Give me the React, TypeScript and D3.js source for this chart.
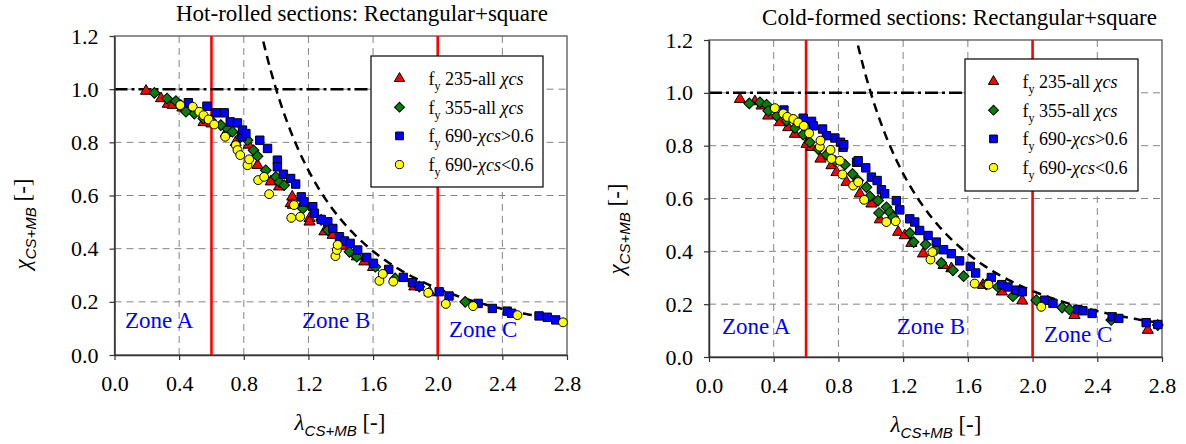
import React, { useEffect, useRef } from "react";
import * as d3 from "d3";

// slenderness / reduction factor pairs
const hot235 = [[0.195,0.993],[0.288,0.965],[0.33,0.944],[0.36,0.94],[0.42,0.93],[0.551,0.875],[0.6,0.87],[0.689,0.834],[0.75,0.8],[0.83,0.79],[0.885,0.714],[0.967,0.652],[1.018,0.633],[1.09,0.57],[1.1,0.595],[1.104,0.564],[1.207,0.514],[1.207,0.501],[1.299,0.464],[1.35,0.451],[1.42,0.41],[1.5,0.37],[1.546,0.351],[1.6,0.33],[1.855,0.257],[1.95,0.235]];
const hot355 = [[0.247,0.986],[0.325,0.965],[0.38,0.955],[0.41,0.94],[0.442,0.915],[0.494,0.908],[0.55,0.89],[0.597,0.883],[0.658,0.865],[0.7,0.85],[0.73,0.84],[0.78,0.82],[0.823,0.808],[0.86,0.77],[0.885,0.748],[0.936,0.695],[0.998,0.67],[1.02,0.65],[1.05,0.639],[1.16,0.558],[1.165,0.551],[1.279,0.508],[1.32,0.47],[1.454,0.388],[1.499,0.37],[1.614,0.332],[1.737,0.288],[1.886,0.257],[2.17,0.2]];
const hot690hi = [[0.457,0.949],[0.572,0.936],[0.628,0.911],[0.679,0.911],[0.716,0.877],[0.761,0.873],[0.788,0.821],[0.792,0.846],[0.813,0.833],[0.899,0.808],[0.947,0.777],[1.008,0.733],[1.008,0.708],[1.045,0.68],[1.09,0.664],[1.121,0.643],[1.156,0.595],[1.173,0.576],[1.227,0.558],[1.237,0.533],[1.279,0.51],[1.32,0.501],[1.351,0.476],[1.392,0.445],[1.423,0.429],[1.458,0.42],[1.505,0.395],[1.561,0.367],[1.602,0.345],[1.697,0.322],[1.787,0.292],[1.844,0.272],[1.886,0.259],[2.009,0.238],[2.07,0.222],[2.25,0.194],[2.338,0.175],[2.43,0.165],[2.457,0.157],[2.627,0.147],[2.678,0.142],[2.73,0.132]];
const hot690lo = [[0.407,0.94],[0.484,0.934],[0.525,0.915],[0.551,0.902],[0.582,0.886],[0.617,0.867],[0.685,0.821],[0.751,0.789],[0.761,0.771],[0.778,0.752],[0.823,0.714],[0.833,0.736],[0.889,0.658],[0.926,0.67],[0.957,0.605],[1.094,0.516],[1.111,0.564],[1.149,0.52],[1.367,0.372],[1.376,0.395],[1.381,0.414],[1.639,0.279],[1.66,0.305],[1.725,0.276],[1.941,0.234],[2.05,0.192],[2.219,0.184],[2.493,0.15],[2.775,0.123]];

const cold235 = [[0.191,0.976],[0.284,0.967],[0.325,0.951],[0.366,0.913],[0.438,0.888],[0.49,0.869],[0.531,0.844],[0.603,0.806],[0.634,0.794],[0.689,0.75],[0.757,0.725],[0.788,0.699],[0.85,0.662],[0.932,0.618],[1.004,0.58],[1.056,0.52],[1.169,0.473],[1.21,0.46],[1.251,0.431],[1.323,0.391],[1.45,0.347],[1.498,0.335],[1.693,0.272],[1.81,0.247],[1.936,0.213],[2.259,0.158],[2.712,0.102]];
const cold355 = [[0.249,0.96],[0.315,0.964],[0.356,0.955],[0.366,0.932],[0.418,0.913],[0.479,0.894],[0.531,0.867],[0.582,0.842],[0.623,0.813],[0.675,0.787],[0.726,0.766],[0.778,0.743],[0.84,0.728],[0.887,0.693],[0.922,0.668],[0.973,0.643],[0.994,0.608],[1.045,0.592],[1.051,0.545],[1.097,0.567],[1.117,0.548],[1.138,0.53],[1.241,0.469],[1.265,0.435],[1.339,0.426],[1.405,0.406],[1.436,0.356],[1.508,0.328],[1.574,0.306],[1.714,0.275],[1.786,0.265],[1.878,0.23],[2.023,0.215],[2.183,0.187],[2.228,0.18],[2.486,0.14],[2.774,0.121]];
const cold690hi = [[0.463,0.935],[0.582,0.904],[0.634,0.892],[0.644,0.875],[0.702,0.863],[0.726,0.838],[0.778,0.829],[0.813,0.813],[0.829,0.794],[0.833,0.804],[0.912,0.737],[0.922,0.743],[0.969,0.716],[1.004,0.681],[1.039,0.668],[1.066,0.633],[1.086,0.618],[1.158,0.592],[1.179,0.557],[1.241,0.523],[1.272,0.511],[1.302,0.479],[1.354,0.46],[1.405,0.435],[1.45,0.406],[1.498,0.391],[1.549,0.364],[1.615,0.343],[1.648,0.318],[1.745,0.301],[1.81,0.274],[1.847,0.265],[1.899,0.253],[1.936,0.247],[2.074,0.215],[2.126,0.203],[2.28,0.18],[2.311,0.175],[2.368,0.165],[2.492,0.152],[2.533,0.146],[2.702,0.13],[2.774,0.123]];
const cold690lo = [[0.407,0.942],[0.459,0.922],[0.484,0.909],[0.521,0.901],[0.551,0.888],[0.586,0.875],[0.619,0.847],[0.685,0.796],[0.689,0.819],[0.751,0.784],[0.757,0.75],[0.809,0.743],[0.825,0.691],[0.891,0.649],[0.922,0.662],[0.959,0.595],[1.096,0.511],[1.154,0.514],[1.369,0.369],[1.381,0.397],[1.642,0.278],[1.728,0.274],[2.054,0.19]];

const xTicks = [0, 0.4, 0.8, 1.2, 1.6, 2.0, 2.4, 2.8];
const yTicks = [0, 0.2, 0.4, 0.6, 0.8, 1.0, 1.2];
const zoneLimits = [0.6, 2.0];
const zoneNames = ["Zone A", "Zone B", "Zone C"];
const legendNames = [
  ["235-all ", "χcs", ""],
  ["355-all ", "χcs", ""],
  ["690-", "χcs", ">0.6"],
  ["690-", "χcs", "<0.6"],
];

const serif = "Liberation Serif, Times New Roman, serif";
const sans = "Liberation Sans, Arial, sans-serif";

const markers = [
  { fill: "#ff0000", type: d3.symbolTriangle, size: 54, rot: 0 },
  { fill: "#0a7d0a", type: d3.symbolSquare, size: 58, rot: 45 },
  { fill: "#0000ff", type: d3.symbolSquare, size: 70, rot: 0 },
  { fill: "#ffff00", type: d3.symbolCircle, size: 62, rot: 0 },
];

const panels = [
  {
    id: "hot", left: 114.5, right: 567, top: 36, bottom: 355,
    title: "Hot-rolled sections: Rectangular+square", titleX: 176, titleY: 21, titleAnchor: "start",
    series: [hot235, hot355, hot690hi, hot690lo],
    legend: { x: 371, y: 56, w: 172, h: 131 },
    zones: [[0.065, 0.103], [1.16, 0.103], [2.07, 0.069]],
    yLabX: 30, yLabY: 224, xLabX: 340, xLabY: 430,
  },
  {
    id: "cold", left: 709, right: 1162, top: 40, bottom: 357,
    title: "Cold-formed sections: Rectangular+square", titleX: 1157, titleY: 25, titleAnchor: "end",
    series: [cold235, cold355, cold690hi, cold690lo],
    legend: { x: 965, y: 59, w: 173, h: 132 },
    zones: [[0.08, 0.087], [1.16, 0.087], [2.07, 0.058]],
    yLabX: 624, yLabY: 229, xLabX: 936, xLabY: 432,
  },
];

function drawPanel(svg, p) {
  const x = d3.scaleLinear().domain([0, 2.8]).range([p.left, p.right]);
  const y = d3.scaleLinear().domain([0, 1.2]).range([p.bottom, p.top]);
  const g = svg.append("g");

  g.append("clipPath").attr("id", "clip-" + p.id)
    .append("rect").attr("x", p.left).attr("y", p.top)
    .attr("width", p.right - p.left).attr("height", p.bottom - p.top);

  // gridlines
  g.append("g").selectAll("line").data(xTicks.slice(1, -1)).join("line")
    .attr("x1", d => x(d)).attr("x2", d => x(d)).attr("y1", p.top).attr("y2", p.bottom)
    .attr("stroke", "#858585").attr("stroke-dasharray", "7,5");
  g.append("g").selectAll("line").data(yTicks.slice(1, -1)).join("line")
    .attr("y1", d => y(d)).attr("y2", d => y(d)).attr("x1", p.left).attr("x2", p.right)
    .attr("stroke", "#858585").attr("stroke-dasharray", "7,5");

  // frame
  g.append("rect").attr("x", p.left).attr("y", p.top)
    .attr("width", p.right - p.left).attr("height", p.bottom - p.top)
    .attr("fill", "none").attr("stroke", "#555").attr("stroke-width", 1.3);

  // zone limits
  g.append("g").selectAll("line").data(zoneLimits).join("line")
    .attr("x1", d => x(d)).attr("x2", d => x(d)).attr("y1", p.top).attr("y2", p.bottom)
    .attr("stroke", "#ff0000").attr("stroke-width", 2.6);

  // chi = 1 plateau and elastic curve 1/lambda^2
  g.append("line").attr("x1", x(0)).attr("x2", x(1.6)).attr("y1", y(1)).attr("y2", y(1))
    .attr("stroke", "#000").attr("stroke-width", 2.5).attr("stroke-dasharray", "13,4,3,4");
  const curve = d3.range(0.9, 2.8001, 0.01).map(l => [l, 1 / (l * l)]);
  g.append("path").datum(curve)
    .attr("clip-path", `url(#clip-${p.id})`)
    .attr("d", d3.line().x(d => x(d[0])).y(d => y(d[1])))
    .attr("fill", "none").attr("stroke", "#000").attr("stroke-width", 2.5)
    .attr("stroke-dasharray", "9,6");

  // axes
  const xAxis = g.append("g").attr("transform", `translate(0,${p.bottom})`)
    .call(d3.axisBottom(x).tickValues(xTicks).tickSize(5).tickSizeOuter(0).tickPadding(15).tickFormat(d3.format(".1f")));
  const yAxis = g.append("g").attr("transform", `translate(${p.left},0)`)
    .call(d3.axisLeft(y).tickValues(yTicks).tickSize(5).tickSizeOuter(0).tickPadding(11).tickFormat(d3.format(".1f")));
  [xAxis, yAxis].forEach(a => {
    a.attr("font-family", serif).attr("font-size", 22);
    a.selectAll(".domain").attr("stroke", "#333").attr("stroke-width", 1.5);
    a.selectAll(".tick line").attr("stroke", "#333").attr("stroke-width", 1.2);
    a.selectAll(".tick text").style("font-family", serif).style("font-size", "22px").attr("fill", "#000");
  });

  // zone names
  g.append("g").selectAll("text").data(p.zones).join("text")
    .attr("x", d => x(d[0])).attr("y", d => y(d[1]))
    .style("font-family", serif).style("font-size", "23px").attr("fill", "#0000ff")
    .text((d, i) => zoneNames[i]);

  // points
  p.series.forEach((s, i) => {
    const m = markers[i];
    const sym = d3.symbol().type(m.type).size(m.size);
    g.append("g").selectAll("path").data(s).join("path")
      .attr("d", sym)
      .attr("transform", d => `translate(${x(d[0])},${y(d[1])}) rotate(${m.rot})`)
      .attr("fill", m.fill).attr("stroke", "#000").attr("stroke-width", 1);
  });

  // legend
  const L = p.legend;
  const lg = g.append("g");
  lg.append("rect").attr("x", L.x).attr("y", L.y).attr("width", L.w).attr("height", L.h)
    .attr("fill", "#fff").attr("stroke", "#000").attr("stroke-width", 1.2);
  legendNames.forEach((n, i) => {
    const cy = L.y + 22.5 + i * 28.7;
    const m = markers[i];
    lg.append("path").attr("d", d3.symbol().type(m.type).size(m.size * 0.85)())
      .attr("transform", `translate(${L.x + 28.5},${cy}) rotate(${m.rot})`)
      .attr("fill", m.fill).attr("stroke", "#000").attr("stroke-width", 1);
    const t = lg.append("text").attr("x", L.x + 57.5).attr("y", cy + 6.5)
      .style("font-family", serif).style("font-size", "18px").attr("fill", "#000");
    t.append("tspan").text("f");
    t.append("tspan").style("font-size", "12px").attr("dy", 5).text("y");
    t.append("tspan").attr("dy", -5).text(" " + n[0]);
    t.append("tspan").style("font-style", "italic").text(n[1]);
    if (n[2]) t.append("tspan").text(n[2]);
  });

  // titles and axis labels
  g.append("text").attr("x", p.titleX).attr("y", p.titleY).attr("text-anchor", p.titleAnchor)
    .style("font-family", serif).style("font-size", "23px").attr("fill", "#000").text(p.title);

  const xl = g.append("text").attr("x", p.xLabX).attr("y", p.xLabY).attr("text-anchor", "middle")
    .style("font-family", serif).style("font-size", "23px").attr("fill", "#000");
  xl.append("tspan").style("font-style", "italic").text("λ");
  xl.append("tspan").style("font-family", sans).style("font-style", "italic").style("font-size", "15px").attr("dy", 6).text("CS+MB");
  xl.append("tspan").attr("dy", -6).text(" [-]");

  const yl = g.append("text").attr("transform", `translate(${p.yLabX},${p.yLabY}) rotate(-90)`)
    .attr("text-anchor", "middle").style("font-family", serif).style("font-size", "23px").attr("fill", "#000");
  yl.append("tspan").style("font-style", "italic").text("χ");
  yl.append("tspan").style("font-family", sans).style("font-style", "italic").style("font-size", "15px").attr("dy", 6).text("CS+MB");
  yl.append("tspan").attr("dy", -6).text(" [-]");
}

const App = () => {
  const svgRef = useRef(null);

  useEffect(() => {
    const svg = d3.select(svgRef.current);
    svg.selectAll("*").remove();
    panels.forEach(p => drawPanel(svg, p));
  }, []);

  return (
    <svg ref={svgRef} width={1186} height={444}
      style={{ position: "absolute", left: 0, top: 0, background: "#fff" }} />
  );
};

export default App;
